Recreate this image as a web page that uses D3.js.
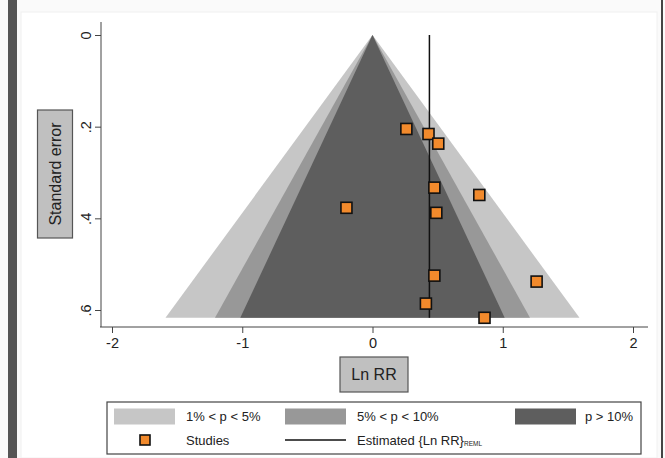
<!DOCTYPE html>
<html>
<head>
<meta charset="utf-8">
<script src="https://cdn.jsdelivr.net/npm/d3@7"></script>
<style>
  body { margin: 0; background: #fff; }
  svg { display: block; font-family: "Liberation Sans", Arial, sans-serif; }
</style>
</head>
<body>
<div id="grafico"></div>
<script>
// estudios: Ln RR y error estandar
const lnRR = [0.26, 0.43, 0.505, 0.475, 0.82, -0.20, 0.49, 0.475, 1.26, 0.41, 0.86];
const errorEstandar = [0.205, 0.216, 0.237, 0.333, 0.349, 0.377, 0.388, 0.525, 0.538, 0.586, 0.617];
const estimadoREML = 0.437;

const ticksX = [-2, -1, 0, 1, 2];
const etiquetasX = ["-2", "-1", "0", "1", "2"];
const ticksY = [0, 0.2, 0.4, 0.6];
const etiquetasY = ["0", ".2", ".4", ".6"];

// contornos de significancia (z) y colores
const contornos = [
    { z: 2.576, color: "#c6c6c6", texto: "1% < p < 5%" },
    { z: 1.96, color: "#989898", texto: "5% < p < 10%" },
    { z: 1.645, color: "#5e5e5e", texto: "p > 10%" }
];

const ancho = 665, alto = 458;
const naranja = "#f28a2c";

const $svg = d3.select("#grafico")
    .append("svg")
    .attr("width", ancho)
    .attr("height", alto);

// marco exterior
$svg.append("rect").attr("x", 0).attr("y", 0).attr("width", ancho).attr("height", alto).attr("fill", "#fafafa");
$svg.append("rect").attr("x", 21).attr("y", 12).attr("width", 636).attr("height", alto - 12)
    .attr("fill", "#fff").attr("stroke", "#f0f0f0");
$svg.append("rect").attr("x", 8).attr("y", 0).attr("width", 9).attr("height", alto).attr("fill", "#555");
$svg.append("rect").attr("x", 661).attr("y", 0).attr("width", 2).attr("height", alto).attr("fill", "#444");

const x = d3.scaleLinear().domain([-2, 2]).range([112, 633]);
const y = d3.scaleLinear().domain([0, 0.6]).range([35, 310]);

const seMax = d3.max(errorEstandar);

// embudos
contornos.forEach(c => {
    const puntos = [[0, 0], [-c.z * seMax, seMax], [c.z * seMax, seMax]];
    $svg.append("path")
        .attr("d", d3.line().x(d => x(d[0])).y(d => y(d[1]))(puntos) + "Z")
        .attr("fill", c.color);
});

// linea del estimado
$svg.append("line")
    .attr("x1", x(estimadoREML)).attr("x2", x(estimadoREML))
    .attr("y1", y(0)).attr("y2", y(seMax))
    .attr("stroke", "#111").attr("stroke-width", 1.5);

// estudios
const lado = 11;
$svg.append("g").selectAll("rect")
    .data(lnRR)
    .join("rect")
    .attr("x", (d, i) => x(d) - lado / 2)
    .attr("y", (d, i) => y(errorEstandar[i]) - lado / 2)
    .attr("width", lado).attr("height", lado)
    .attr("fill", naranja)
    .attr("stroke", "#111").attr("stroke-width", 1.6);

// eje x
const ejeXY = 327;
const gX = $svg.append("g").attr("transform", `translate(0,${ejeXY})`)
    .call(d3.axisBottom(x).tickValues(ticksX).tickSize(6).tickPadding(5).tickFormat((d, i) => etiquetasX[i]));
gX.select(".domain").attr("d", `M100,0H648`).attr("stroke", "#444");
gX.selectAll(".tick line").attr("stroke", "#444");
gX.selectAll("text").attr("font-size", 14.5).attr("fill", "#222").attr("font-family", "Liberation Sans, Arial, sans-serif");

// eje y
const ejeYX = 101;
const gY = $svg.append("g").attr("transform", `translate(${ejeYX},0)`)
    .call(d3.axisLeft(y).tickValues(ticksY).tickSize(6).tickFormat((d, i) => etiquetasY[i]));
gY.select(".domain").attr("d", `M0,22V${ejeXY}`).attr("stroke", "#444");
gY.selectAll(".tick line").attr("stroke", "#444");
gY.selectAll("text")
    .attr("font-size", 14.5).attr("fill", "#222").attr("font-family", "Liberation Sans, Arial, sans-serif")
    .attr("x", null).attr("dy", null)
    .attr("text-anchor", "middle")
    .attr("transform", "translate(-15,0) rotate(-90)")
    .attr("dominant-baseline", "central");

// titulos de ejes en caja gris
const cajaTitulo = (cx, cy, w, h, texto, rotar) => {
    const g = $svg.append("g").attr("transform", `translate(${cx},${cy})` + (rotar ? " rotate(-90)" : ""));
    g.append("rect").attr("x", -w / 2).attr("y", -h / 2).attr("width", w).attr("height", h)
        .attr("fill", "#c0c0c0").attr("stroke", "#555").attr("stroke-width", 1.2);
    g.append("text").attr("text-anchor", "middle").attr("dominant-baseline", "central")
        .attr("font-size", 16).attr("fill", "#222").text(texto);
};
cajaTitulo(55, 174, 128, 35, "Standard error", true);
cajaTitulo(374, 374.5, 68, 35, "Ln RR", false);

// leyenda
const leyenda = $svg.append("g");
leyenda.append("rect").attr("x", 107).attr("y", 402).attr("width", 534).attr("height", 52)
    .attr("fill", "#fff").attr("stroke", "#444").attr("stroke-width", 1.2);
const fila1 = 416.5, fila2 = 440;
const colSwatch = [114, 285, 515];
const colTexto = [186, 357, 585];
contornos.forEach((c, i) => {
    leyenda.append("rect").attr("x", colSwatch[i]).attr("y", fila1 - 8).attr("width", 61).attr("height", 16).attr("fill", c.color);
    leyenda.append("text").attr("x", colTexto[i]).attr("y", fila1).attr("dominant-baseline", "central")
        .attr("font-size", 13).attr("fill", "#222").text(c.texto);
});
leyenda.append("rect").attr("x", 145 - 5).attr("y", fila2 - 5).attr("width", 10).attr("height", 10)
    .attr("fill", naranja).attr("stroke", "#111").attr("stroke-width", 1.6);
leyenda.append("text").attr("x", colTexto[0]).attr("y", fila2).attr("dominant-baseline", "central")
    .attr("font-size", 13).attr("fill", "#222").text("Studies");
leyenda.append("line").attr("x1", 285).attr("x2", 346).attr("y1", fila2).attr("y2", fila2)
    .attr("stroke", "#111").attr("stroke-width", 1.5);
const textoEst = leyenda.append("text").attr("x", colTexto[1]).attr("y", fila2).attr("dominant-baseline", "central")
    .attr("font-size", 13).attr("fill", "#222");
textoEst.append("tspan").text("Estimated {Ln RR}");
textoEst.append("tspan").attr("font-size", 6.5).attr("dy", 3).text("REML");
</script>
</body>
</html>
